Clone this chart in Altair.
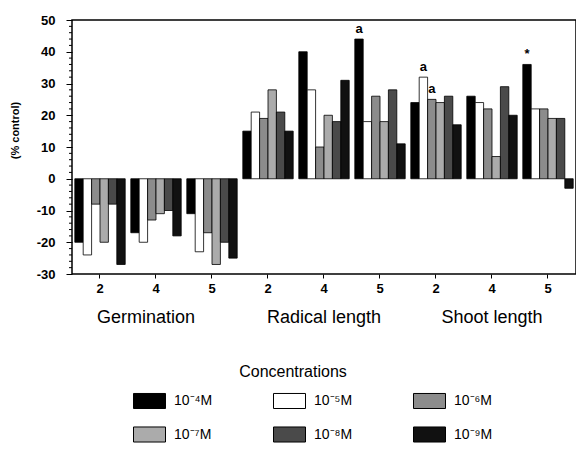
import altair as alt
import pandas as pd

# ---------------- data ----------------
groups = ["Germination", "Radical length", "Shoot length"]
group_keys = ["G", "R", "S"]
days = ["2", "4", "5"]
concentrations = ["10⁻⁴M", "10⁻⁵M", "10⁻⁶M", "10⁻⁷M", "10⁻⁸M", "10⁻⁹M"]
fills = ["#000000", "#ffffff", "#8c8c8c", "#ababab", "#4a4a4a", "#111111"]

# values per day (2, 4, 5), one entry per concentration
germination = [[-20, -24, -8, -20, -8, -27],
               [-17, -20, -13, -11, -10, -18],
               [-11, -23, -17, -27, -20, -25]]
radical_length = [[15, 21, 19, 28, 21, 15],
                  [40, 28, 10, 20, 18, 31],
                  [44, 18, 26, 18, 28, 11]]
shoot_length = [[24, 32, 25, 24, 26, 17],
                [26, 24, 22, 7, 29, 20],
                [36, 22, 22, 19, 19, -3]]

major_ticks = [-30, -20, -10, 0, 10, 20, 30, 40, 50]
minor_ticks = [v for v in range(-30, 51, 2) if v % 10 != 0]

# annotations: (group index, day, concentration, label)
annotations = [(1, "5", "10⁻⁴M", "a"),
               (2, "2", "10⁻⁵M", "a"),
               (2, "2", "10⁻⁶M", "a"),
               (2, "5", "10⁻⁴M", "*")]

# ---------------- tables ----------------
all_values = [germination, radical_length, shoot_length]
keys = [gk + d for gk in group_keys for d in days]
rows = []
for gi, gk in enumerate(group_keys):
    for di, d in enumerate(days):
        for ci, c in enumerate(concentrations):
            rows.append({"key": gk + d, "conc": c, "value": all_values[gi][di][ci]})
df = pd.DataFrame(rows)

ann_rows = []
for gi, d, c, lab in annotations:
    ci = concentrations.index(c)
    di = days.index(d)
    ann_rows.append({"key": group_keys[gi] + d, "conc": c,
                     "value": all_values[gi][di][ci], "label": lab})
ann_df = pd.DataFrame(ann_rows)

glabel_df = pd.DataFrame({"key": [gk + "4" for gk in group_keys], "label": groups})
minor_df = pd.DataFrame({"v": minor_ticks})

FONT = "Liberation Sans"

x_axis = alt.Axis(title=None, labelExpr="slice(datum.value, 1)", labelAngle=0,
                  domain=False, ticks=True, tickSize=4, tickColor="black",
                  labelFontSize=13, labelFontWeight="bold", labelPadding=4,
                  labelColor="black", labelFont=FONT)
x_scale = alt.Scale(domain=keys, paddingInner=0.1, paddingOuter=0.05)
y_axis = alt.Axis(values=major_ticks, tickSize=6,
                  labelExpr="'' + datum.value",
                  labelOverlap=False, labelBound=False, labelFlush=False,
                  tickColor="black", domain=False, grid=False,
                  labelFontSize=13, labelFontWeight="bold", labelColor="black",
                  labelFont=FONT, labelPadding=11,
                  title="(% control)", titleFontSize=11, titleFontWeight="bold",
                  titleFont=FONT, titleColor="black",
                  titleX=-57, titleY=110, titleAngle=270,
                  titleAlign="center", titleBaseline="middle")
y_scale = alt.Scale(domain=[-30, 50], nice=False)

def X():
    return alt.X("key:N", sort=keys, scale=x_scale, axis=x_axis)

def XO():
    return alt.XOffset("conc:N", sort=concentrations,
                       scale=alt.Scale(domain=concentrations, paddingInner=0))

bars = alt.Chart(df).mark_bar(stroke="black", strokeWidth=0.8).encode(
    x=X(),
    xOffset=XO(),
    y=alt.Y("value:Q", scale=y_scale, axis=y_axis),
    fill=alt.Fill("conc:N", sort=concentrations,
                  scale=alt.Scale(domain=concentrations, range=fills),
                  legend=alt.Legend(orient="none", legendX=61, legendY=364,
                                    direction="horizontal", columns=3, title=None,
                                    symbolType="M-1,-0.47L1,-0.47L1,0.47L-1,0.47Z",
                                    symbolSize=1024, symbolStrokeColor="black",
                                    symbolStrokeWidth=1, symbolOpacity=1,
                                    labelFont=FONT, labelFontSize=14, labelColor="black",
                                    labelOffset=8, columnPadding=58, rowPadding=7)),
)

minor = alt.Chart(minor_df).mark_rule(color="black", strokeWidth=1).encode(
    y=alt.Y("v:Q", scale=y_scale, axis=y_axis), x=alt.value(-3), x2=alt.value(0))

ann = alt.Chart(ann_df).mark_text(baseline="bottom", dy=-3, fontSize=13,
                                  fontWeight="bold", font=FONT, color="black").encode(
    x=X(),
    xOffset=XO(),
    y=alt.Y("value:Q", scale=y_scale, axis=y_axis),
    text="label:N",
)

glab_main = alt.Chart(glabel_df).transform_filter("datum.label != 'Germination'").mark_text(
    fontSize=18, font=FONT, color="black", baseline="middle").encode(
    x=X(), y=alt.value(298), text="label:N")
glab_germ = alt.Chart(glabel_df).transform_filter("datum.label == 'Germination'").mark_text(
    fontSize=18, font=FONT, color="black", baseline="middle", dx=-10).encode(
    x=X(), y=alt.value(298), text="label:N")

conc_title = alt.Chart(pd.DataFrame({"t": ["Concentrations"]})).mark_text(
    fontSize=16, font=FONT, color="black", baseline="middle").encode(
    x=alt.value(221), y=alt.value(352), text="t:N")

chart = alt.layer(bars, minor, ann, glab_main, glab_germ, conc_title).properties(
    width=504, height=254,
    autosize=alt.AutoSizeParams(type="none"),
    padding={"left": 72, "top": 20, "right": 0, "bottom": 178},
    background="white",
).configure_view(stroke="black", strokeWidth=1.5)

chart.save("out.html", embed_options={"renderer": "svg", "actions": False})
